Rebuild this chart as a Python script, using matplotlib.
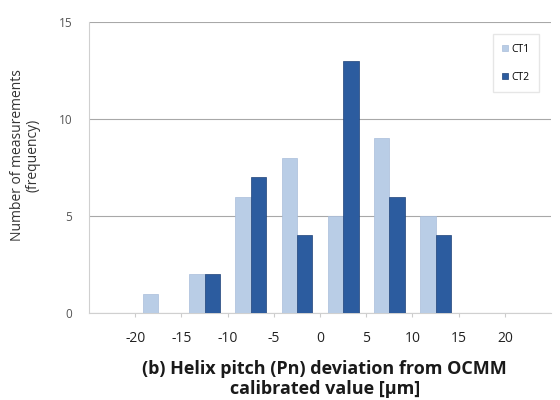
import matplotlib
matplotlib.use('Agg')
from matplotlib import pyplot as plt
import numpy as np

# Histogram bins (edges in um), counts per instrument
bin_edges = [-20, -15, -10, -5, 0, 5, 10, 15, 20]
ct1 = [0, 1, 2, 6, 8, 5, 9, 5, 0, 0]
ct2 = [0, 0, 2, 7, 4, 13, 6, 4, 0, 0]

plt.rcParams['font.family'] = ['Open Sans', 'DejaVu Sans']

fig = plt.figure(figsize=(5.6, 4), dpi=100)
ax = fig.add_axes([0.159, 0.2175, 0.825, 0.7275])

x = np.arange(len(ct1))
w = 1 / 3
ax.bar(x - w / 2, ct1, width=w, color='#b9cde6', edgecolor='#a9bedb', linewidth=0.5, label='CT1', zorder=3)
ax.bar(x + w / 2, ct2, width=w, color='#2c5c9f', edgecolor='#1f4279', linewidth=0.5, label='CT2', zorder=3)

ax.set_xlim(-0.5, len(ct1) - 0.5)
ax.set_ylim(0, 15)

# labels sit on the bin boundaries between category slots
ax.set_xticks(np.arange(len(bin_edges)) + 0.5)
ax.set_xticklabels([str(e) for e in bin_edges], fontsize=10, color='#222222')
ax.set_yticks([0, 5, 10, 15])
ax.set_yticklabels(['0', '5', '10', '15'], fontsize=8.5, color='#555555')
ax.tick_params(axis='y', length=0, pad=12)
ax.tick_params(axis='x', length=3, color='#cccccc', pad=10)

ax.yaxis.grid(True, color='#a8a8a8', linewidth=0.8, zorder=0)
for s in ['top', 'right']:
    ax.spines[s].set_visible(False)
ax.spines['left'].set_color('#d0d0d0')
ax.spines['bottom'].set_color('#d0d0d0')

ax.legend(loc='upper right', bbox_to_anchor=(0.985, 0.975), fontsize=7.5, frameon=True,
          handlelength=0.6, handleheight=0.6, handletextpad=0.3, labelspacing=1.6,
          borderpad=0.9, fancybox=False, edgecolor='#e0e0e0')

fig.text(0.045, 1 - 155 / 400, 'Number of measurements\n(frequency)', rotation=90,
         ha='center', va='center', multialignment='center', fontsize=10, color='#333333',
         linespacing=1.1)
fig.text(0.58, 1 - 379 / 400, '(b) Helix pitch (Pn) deviation from OCMM\ncalibrated value [µm]',
         ha='center', va='center', multialignment='center', fontsize=13,
         fontweight='bold', color='#1a1a1a', linespacing=1.1)

fig.savefig('out.png', dpi=100)
